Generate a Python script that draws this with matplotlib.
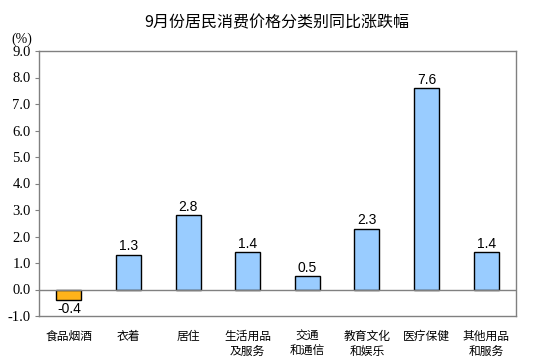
import matplotlib.pyplot as plt
import numpy as np

categories = ['食品烟酒', '衣着', '居住', '生活用品\n及服务', '交通\n和通信',
              '教育文化\n和娱乐', '医疗保健', '其他用品\n和服务']
values = [-0.4, 1.3, 2.8, 1.4, 0.5, 2.3, 7.6, 1.4]
yticks = [-1.0, 0.0, 1.0, 2.0, 3.0, 4.0, 5.0, 6.0, 7.0, 8.0, 9.0]

cjk = ['Noto Sans CJK SC', 'DejaVu Sans']

fig = plt.figure(figsize=(5.39, 3.63), dpi=100)
ax = fig.add_axes([39 / 539, 1 - 316 / 363, 477 / 539, 265 / 363])

x = np.arange(len(categories))
colors = ['#FFB31A' if v < 0 else '#99CCFF' for v in values]
ax.bar(x, values, width=0.42, color=colors, edgecolor='black', linewidth=1)

for xi, v in zip(x, values):
    if v < 0:
        ax.text(xi, v - 0.08, f'{v:.1f}', ha='center', va='top',
                fontsize=10, family='Liberation Sans')
    else:
        ax.text(xi, v + 0.06, f'{v:.1f}', ha='center', va='bottom',
                fontsize=10, family='Liberation Sans')

ax.set_xlim(-0.5, len(categories) - 0.5)
ax.set_ylim(-1.0, 9.0)
ax.set_yticks(yticks)
ax.set_yticklabels([f'{t:.1f}' for t in yticks], family='Liberation Serif', fontsize=10.5)
ax.set_xticks(x)
ax.set_xticklabels(categories, family=cjk, fontsize=8.5, linespacing=1.2, va='top')
ax.tick_params(axis='x', length=0, pad=10)
ax.tick_params(axis='y', length=3, color='#808080', pad=3)
ax.axhline(0, color='#808080', linewidth=1)
for s in ax.spines.values():
    s.set_color('#808080')
    s.set_linewidth(1)

fig.text(277 / 539, 1 - 23 / 363, '9月份居民消费价格分类别同比涨跌幅', ha='center', va='center',
         fontsize=11.5, family=cjk)
fig.text(22 / 539, 1 - 39 / 363, '(%)', ha='center', va='center', fontsize=10,
         family='Liberation Serif')

fig.savefig('out.png', dpi=100)
